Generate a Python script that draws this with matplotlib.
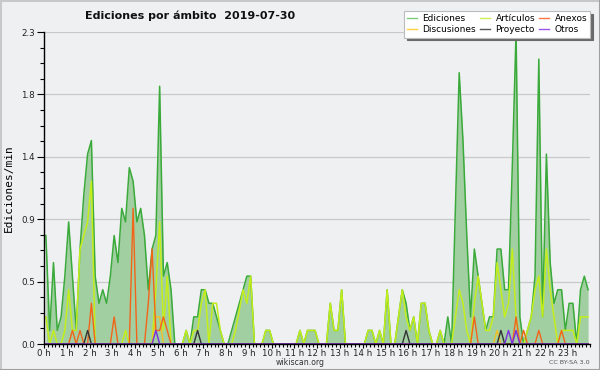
import numpy as np
import matplotlib
matplotlib.use('Agg')
import matplotlib.pyplot as plt
from matplotlib.lines import Line2D
from matplotlib.ticker import MultipleLocator

# 10-minute bins, values in edits per minute (6 values per hour)
ediciones = [
    0.8, 0.1, 0.6, 0.1, 0.2, 0.5,   # 0h
    0.9, 0.5, 0.1, 0.7, 1.1, 1.4,   # 1h
    1.5, 0.5, 0.3, 0.4, 0.3, 0.5,   # 2h
    0.8, 0.6, 1.0, 0.9, 1.3, 1.2,   # 3h
    0.9, 1.0, 0.8, 0.4, 0.7, 0.8,   # 4h
    1.9, 0.5, 0.6, 0.4, 0.0, 0.0,   # 5h
    0.0, 0.1, 0.0, 0.2, 0.2, 0.4,   # 6h
    0.4, 0.3, 0.3, 0.2, 0.1, 0.0,   # 7h
    0.0, 0.1, 0.2, 0.3, 0.4, 0.5,   # 8h
    0.5, 0.0, 0.0, 0.0, 0.1, 0.1,   # 9h
    0.0, 0.0, 0.0, 0.0, 0.0, 0.0,   # 10h
    0.0, 0.1, 0.0, 0.1, 0.1, 0.1,   # 11h
    0.0, 0.0, 0.0, 0.3, 0.1, 0.1,   # 12h
    0.4, 0.0, 0.0, 0.0, 0.0, 0.0,   # 13h
    0.0, 0.1, 0.1, 0.0, 0.1, 0.0,   # 14h
    0.4, 0.0, 0.0, 0.2, 0.4, 0.3,   # 15h
    0.1, 0.2, 0.0, 0.3, 0.3, 0.1,   # 16h
    0.0, 0.0, 0.1, 0.0, 0.2, 0.0,   # 17h
    1.0, 2.0, 1.5, 0.8, 0.2, 0.7,   # 18h
    0.5, 0.3, 0.1, 0.2, 0.2, 0.7,   # 19h
    0.7, 0.4, 0.4, 1.3, 2.3, 0.2,   # 20h
    0.0, 0.1, 0.2, 0.5, 2.1, 0.2,   # 21h
    1.4, 0.6, 0.3, 0.4, 0.4, 0.1,   # 22h
    0.3, 0.3, 0.0, 0.4, 0.5, 0.4,   # 23h
]
articulos = [
    0.2, 0.0, 0.1, 0.0, 0.0, 0.1,
    0.4, 0.1, 0.1, 0.7, 0.8, 0.9,
    1.2, 0.0, 0.0, 0.0, 0.0, 0.0,
    0.0, 0.0, 0.0, 0.1, 0.0, 0.0,
    0.0, 0.0, 0.0, 0.0, 0.0, 0.4,
    0.9, 0.1, 0.5, 0.0, 0.0, 0.0,
    0.0, 0.1, 0.0, 0.1, 0.1, 0.3,
    0.4, 0.0, 0.3, 0.3, 0.1, 0.0,
    0.0, 0.0, 0.1, 0.25, 0.4, 0.3,
    0.5, 0.0, 0.0, 0.0, 0.1, 0.1,
    0.0, 0.0, 0.0, 0.0, 0.0, 0.0,
    0.0, 0.1, 0.0, 0.1, 0.1, 0.1,
    0.0, 0.0, 0.0, 0.3, 0.1, 0.1,
    0.4, 0.0, 0.0, 0.0, 0.0, 0.0,
    0.0, 0.1, 0.1, 0.0, 0.1, 0.0,
    0.4, 0.0, 0.0, 0.2, 0.4, 0.2,
    0.1, 0.2, 0.0, 0.3, 0.3, 0.1,
    0.0, 0.0, 0.1, 0.0, 0.0, 0.0,
    0.2, 0.4, 0.3, 0.1, 0.0, 0.3,
    0.5, 0.3, 0.1, 0.1, 0.2, 0.6,
    0.4, 0.2, 0.3, 0.7, 0.2, 0.0,
    0.0, 0.1, 0.2, 0.4, 0.5, 0.2,
    0.7, 0.4, 0.2, 0.0, 0.1, 0.1,
    0.1, 0.1, 0.0, 0.2, 0.2, 0.2,
]
anexos = [
    0, 0, 0, 0, 0, 0,
    0, 0.1, 0, 0.1, 0, 0,
    0.3, 0, 0, 0, 0, 0,
    0.2, 0, 0, 0, 0, 1.0,
    0, 0, 0, 0.3, 0.7, 0.1,
    0.1, 0.2, 0.1, 0, 0, 0,
    0, 0, 0, 0, 0, 0,
    0, 0, 0, 0, 0, 0,
    0, 0, 0, 0, 0, 0,
    0, 0, 0, 0, 0, 0,
    0, 0, 0, 0, 0, 0,
    0, 0, 0, 0, 0, 0,
    0, 0, 0, 0, 0, 0,
    0, 0, 0, 0, 0, 0,
    0, 0, 0, 0, 0, 0,
    0, 0, 0, 0, 0, 0,
    0, 0, 0, 0, 0, 0,
    0, 0, 0, 0, 0, 0,
    0, 0, 0, 0, 0, 0.2,
    0, 0, 0, 0, 0, 0,
    0, 0, 0, 0, 0.2, 0,
    0.1, 0, 0, 0, 0.1, 0,
    0, 0, 0, 0, 0.1, 0,
    0, 0, 0, 0, 0, 0,
]
discusiones = [0.0] * 144
discusiones_vals = {29: 0.2, 30: 0.2, 119: 0.1}
proyecto = [0.0] * 144
proyecto_vals = {11: 0.1, 40: 0.1, 95: 0.1, 120: 0.1}
otros = [0.0] * 144
otros_vals = {29: 0.1, 122: 0.1, 124: 0.1}
for k, v in discusiones_vals.items():
    discusiones[k] = v
for k, v in proyecto_vals.items():
    proyecto[k] = v
for k, v in otros_vals.items():
    otros[k] = v

hour_labels = [f"{h} h" for h in range(24)]
ytick_labels = ["0.0", "0.5", "0.9", "1.4", "1.8", "2.3"]
ymax = 2.3

t = (np.arange(len(ediciones)) + 0.5) / 6.0

BG = '#eff0f2'
fig = plt.figure(figsize=(6, 3.7), dpi=100, facecolor=BG)
ax = fig.add_axes([44 / 600, 26 / 370, 546 / 600, 312 / 370])
ax.set_facecolor(BG)

ax.fill_between(t, ediciones, color='#a2cfa2', lw=0, zorder=2)
ax.plot(t, ediciones, color='#3aaa3a', lw=1.1, zorder=3)
ax.plot(t, articulos, color='#c4ee1a', lw=1.1, zorder=4)
ax.plot(t, discusiones, color='#f0c020', lw=1.0, zorder=5)
ax.plot(t, anexos, color='#f26418', lw=1.0, zorder=6)
ax.plot(t, proyecto, color='#333333', lw=1.0, zorder=7)
ax.plot(t, otros, color='#7a2ee0', lw=1.0, zorder=8)

ax.set_xlim(0, 24)
ax.set_ylim(0, ymax)
yt = [ymax * k / 5 for k in range(6)]
ax.set_yticks(yt)
ax.set_yticklabels(ytick_labels)
ax.yaxis.set_minor_locator(MultipleLocator(ymax / 20))
ax.set_xticks(range(24))
ax.set_xticklabels(hour_labels)
ax.xaxis.set_minor_locator(MultipleLocator(1 / 6))
ax.grid(axis='y', which='major', color='#c9c9c9', lw=0.9, zorder=1)
ax.set_axisbelow(True)

for s in ['top', 'right']:
    ax.spines[s].set_visible(False)
for s in ['left', 'bottom']:
    ax.spines[s].set_color('black')
    ax.spines[s].set_linewidth(1.0)
    ax.spines[s].set_zorder(10)

ax.tick_params(axis='x', which='major', length=3, width=0.8, pad=0.5, labelsize=6.2, colors='black')
ax.tick_params(axis='x', which='minor', length=2.5, width=0.8)
ax.tick_params(axis='y', which='major', length=5, width=0.8, pad=1.5, labelsize=6.3, direction='out')
ax.tick_params(axis='y', which='minor', length=3, width=0.8, direction='out')
for lab in ax.get_xticklabels():
    lab.set_color('#222222')
for lab in ax.get_yticklabels():
    lab.set_color('#222222')

ax.set_ylabel('Ediciones/min', family='DejaVu Sans Mono', fontsize=8, labelpad=5)

fig.text(85 / 600, 1 - 16 / 370, 'Ediciones por ámbito  2019-07-30',
         fontsize=8, fontweight='bold', ha='left', va='center', color='#111111')

fig.text(300 / 600, 1 - 362.5 / 370, 'wikiscan.org', fontsize=5.6, ha='center', va='center', color='#333333')
fig.text(590 / 600, 1 - 362.5 / 370, 'CC BY-SA 3.0', fontsize=4.6, ha='right', va='center', color='#555555')

handles = [
    Line2D([], [], color='#7ccc7c', lw=1.0),
    Line2D([], [], color='#ffd040', lw=1.0),
    Line2D([], [], color='#ccee55', lw=1.0),
    Line2D([], [], color='#555555', lw=1.0),
    Line2D([], [], color='#ff7744', lw=1.0),
    Line2D([], [], color='#9955ee', lw=1.0),
]
labels = ['Ediciones', 'Discusiones', 'Artículos', 'Proyecto', 'Anexos', 'Otros']
leg = fig.legend(handles, labels, ncol=3, loc='upper left',
                 bbox_to_anchor=(404 / 600, 1 - 11 / 370), borderaxespad=0,
                 fontsize=6.5, handlelength=1.1, handletextpad=0.6,
                 columnspacing=0.45, labelspacing=0.25, borderpad=0.35,
                 fancybox=False, framealpha=1, facecolor='white', edgecolor='#bbbbbb',
                 shadow={'color': '#6a6a6a', 'alpha': 1.0})
leg.get_frame().set_linewidth(0.8)

# outer border
fig.add_artist(Line2D([0, 1], [1 - 0.5 / 370, 1 - 0.5 / 370], transform=fig.transFigure, color='#c8c8c8', lw=1.5))
fig.add_artist(Line2D([0.5 / 600, 0.5 / 600], [0, 1], transform=fig.transFigure, color='#c8c8c8', lw=1.5))
fig.add_artist(Line2D([0, 1], [0.5 / 370, 0.5 / 370], transform=fig.transFigure, color='#a0a0a0', lw=1.5))
fig.add_artist(Line2D([1 - 0.5 / 600, 1 - 0.5 / 600], [0, 1], transform=fig.transFigure, color='#a0a0a0', lw=1.5))

fig.savefig('out.png', dpi=100, facecolor=BG)
